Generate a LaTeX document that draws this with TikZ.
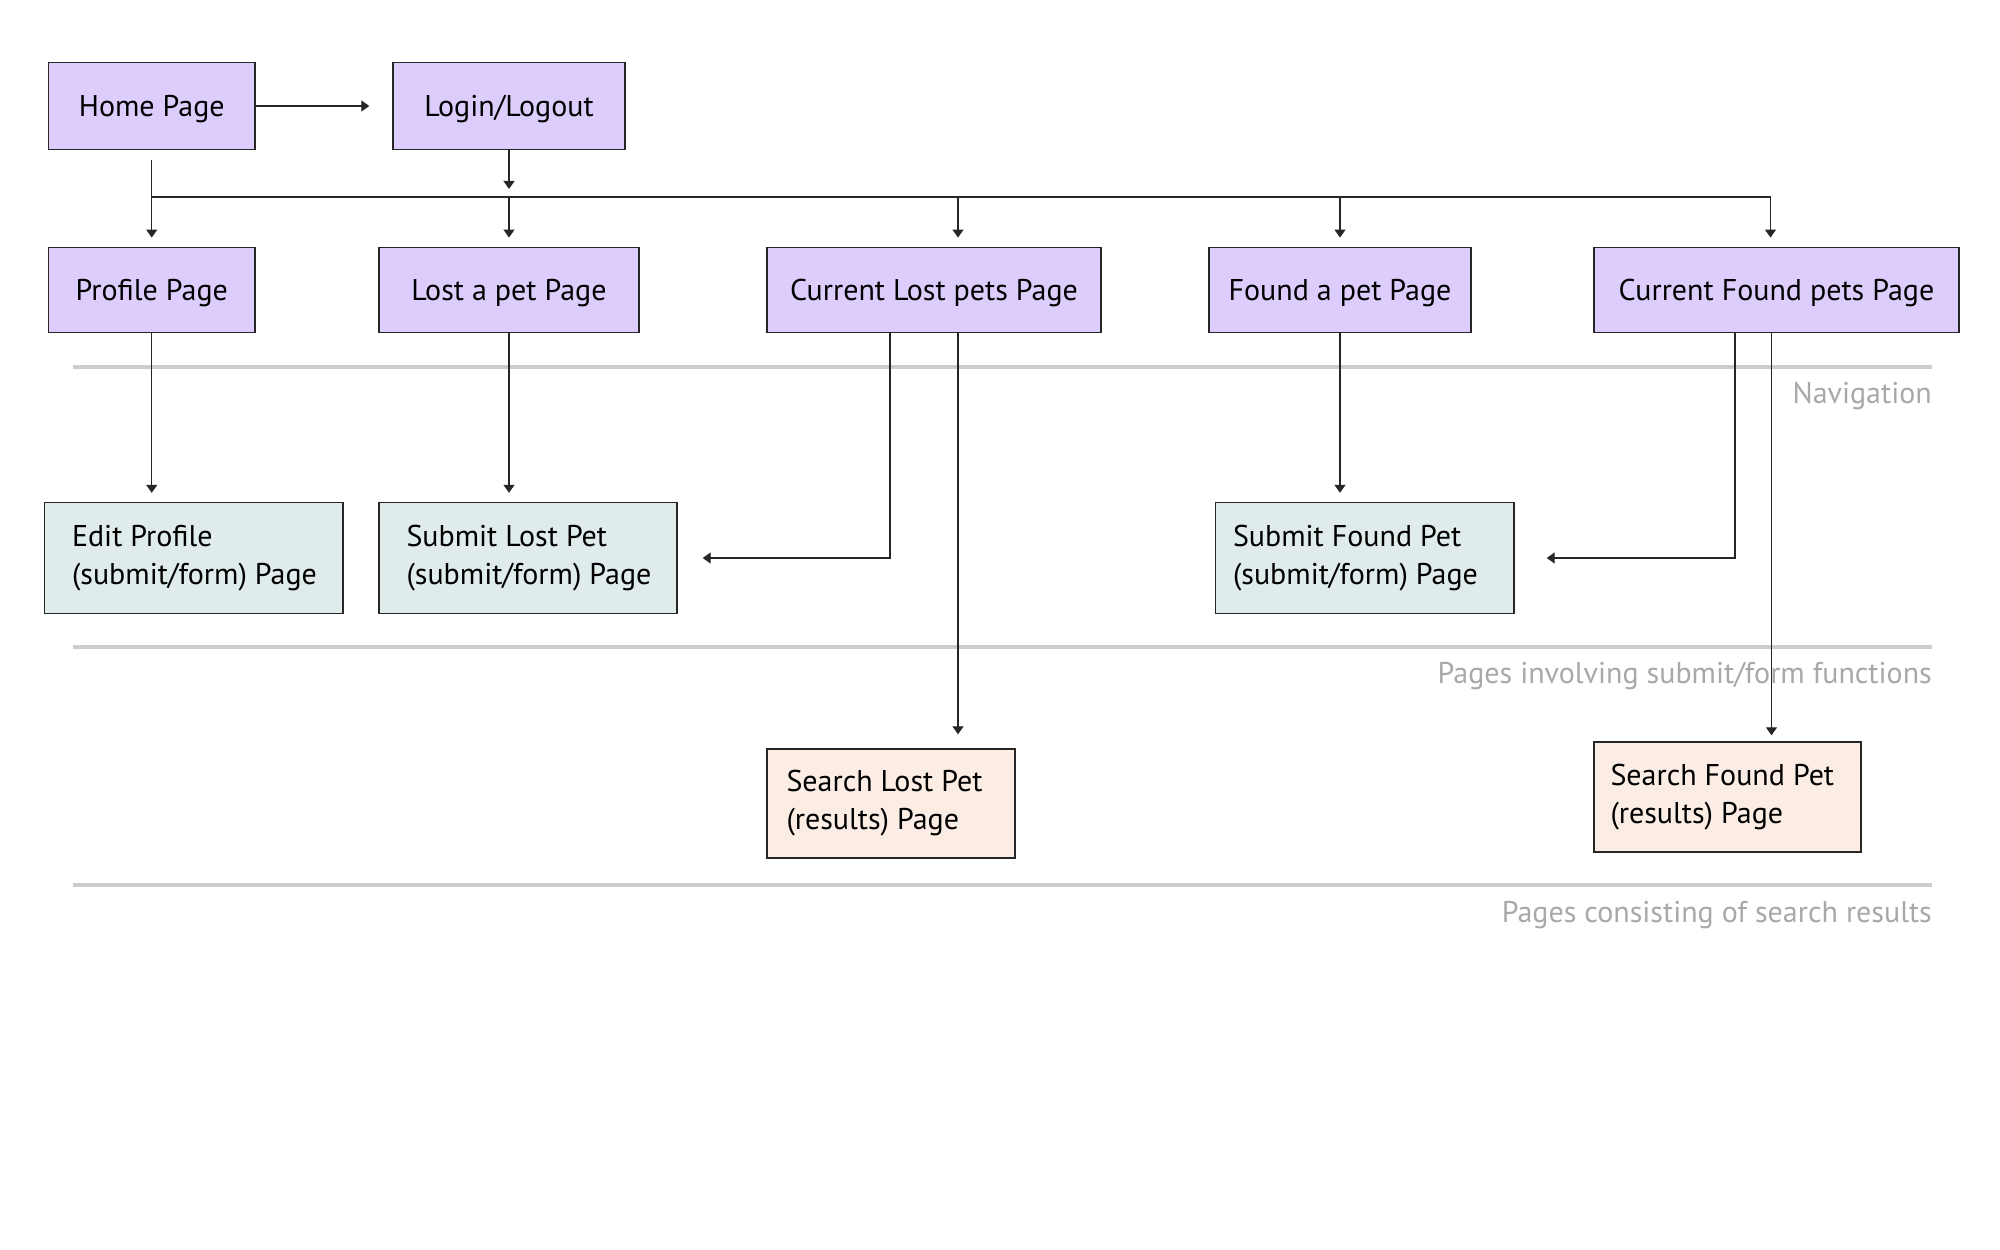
\documentclass[tikz,border=0pt]{standalone}
\usepackage{fontspec}
\setmainfont{PT Sans}
\usetikzlibrary{arrows.meta,calc}
\definecolor{navfill}{RGB}{221,205,252}
\definecolor{formfill}{RGB}{223,236,235}
\definecolor{resfill}{RGB}{251,237,228}
\definecolor{sepline}{RGB}{204,204,204}
\definecolor{seplabel}{RGB}{168,168,168}
\begin{document}
\begin{tikzpicture}[x=1pt,y=-1pt,
  font=\fontsize{30}{38}\selectfont,
  pagebox/.style={draw=black!85,line width=1.4pt,inner sep=0pt},
  navbox/.style={pagebox,fill=navfill,text depth=0pt},
  formbox/.style={pagebox,fill=formfill},
  resbox/.style={pagebox,fill=resfill},
  boxtext/.style={anchor=west,align=left,inner sep=0pt},
  conn/.style={draw=black!85,line width=1.3pt},
  arr/.style={conn,-{Triangle[width=11pt,length=8pt]}},
  sep/.style={draw=sepline,line width=4pt},
  seplab/.style={text=seplabel,anchor=east,inner sep=0pt}]
\useasboundingbox (0,0) rectangle (2000,1250);
% separators
\draw[sep] (73,367) coordinate (s1a) -- (1932,367) coordinate (s1b);
\draw[sep] (73,647) coordinate (s2a) -- (1932,647) coordinate (s2b);
\draw[sep] (73,885) coordinate (s3a) -- (1932,885) coordinate (s3b);
\node[seplab] (lab1) at (1932,396) {Navigation};
\node[seplab] (lab2) at (1932,676) {Pages involving submit/form functions};
\node[seplab] (lab3) at (1932,915) {Pages consisting of search results};
% row 1
\node[navbox,minimum width=206.5pt,minimum height=86.5pt] (home) at (151.75,106) {Home Page};
\node[navbox,minimum width=232pt,minimum height=86.5pt] (login) at (509,106) {Login/Logout};
% row 2
\node[navbox,minimum width=206.5pt,minimum height=85.5pt] (prof) at (151.75,290) {Profile Page};
\node[navbox,minimum width=260pt,minimum height=85.5pt] (lost) at (509,290) {Lost a pet Page};
\node[navbox,minimum width=334pt,minimum height=85.5pt] (curlost) at (934,290) {Current Lost pets Page};
\node[navbox,minimum width=262pt,minimum height=85.5pt] (found) at (1340,290) {Found a pet Page};
\node[navbox,minimum width=365pt,minimum height=85.5pt] (curfound) at (1776.5,290) {Current Found pets Page};
% row 3
\node[formbox,minimum width=298.5pt,minimum height=111pt] (edit) at (193.75,558) {};
\node[boxtext] (editt) at ([xshift=28pt]edit.west) {Edit Profile\\(submit/form) Page};
\node[formbox,minimum width=298pt,minimum height=111pt] (sublost) at (528,558) {};
\node[boxtext] (sublostt) at ([xshift=28pt]sublost.west) {Submit Lost Pet\\(submit/form) Page};
\node[formbox,minimum width=298.5pt,minimum height=111pt] (subfound) at (1364.75,558) {};
\node[boxtext] (subfoundt) at ([xshift=18pt]subfound.west) {Submit Found Pet\\(submit/form) Page};
% row 4
\node[resbox,minimum width=248pt,minimum height=109pt] (srchlost) at (891,803.5) {};
\node[boxtext] (srchlostt) at ([xshift=20pt]srchlost.west) {Search Lost Pet\\(results) Page};
\node[resbox,minimum width=267pt,minimum height=110pt] (srchfound) at (1727.5,797) {};
\node[boxtext] (srchfoundt) at ([xshift=17pt]srchfound.west) {Search Found Pet\\(results) Page};
% helper coordinates
\coordinate (busL) at ($(home.south)+(0,47)$);
\coordinate (cfTop) at ($(curfound.north)+(-6,0)$);
\coordinate (busR) at (busL -| cfTop);
\coordinate (clTop) at ($(curlost.north)+(24,0)$);
\coordinate (clA) at ($(curlost.south)+(-44,0)$);
\coordinate (clB) at ($(curlost.south)+(24,0)$);
\coordinate (clBend) at (clB |- srchlost.north);
\coordinate (cfA) at ($(curfound.south)+(-41.5,0)$);
\coordinate (cfB) at ($(curfound.south)+(-5,0)$);
\coordinate (cfBend) at (cfB |- srchfound.north);
% connectors
\draw[arr,shorten >=23pt] (home.east) -- (login.west);
\draw[conn] (busL) -- (busR);
\draw[arr,shorten <=10pt,shorten >=9pt] (home.south) -- (prof.north);
\draw[arr,shorten >=8pt] (login.south) -- (login.south |- busL);
\draw[arr,shorten >=9pt] (busL -| lost.north) -- (lost.north);
\draw[arr,shorten >=9pt] (busL -| clTop) -- (clTop);
\draw[arr,shorten >=9pt] (busL -| found.north) -- (found.north);
\draw[arr,shorten >=9pt] (busR) -- (cfTop);
\draw[arr,shorten >=9pt] (prof.south) -- (prof.south |- edit.north);
\draw[arr,shorten >=9pt] (lost.south) -- (lost.south |- sublost.north);
\draw[arr,shorten >=9pt] (found.south) -- (found.south |- subfound.north);
\draw[arr,shorten >=25pt] (clA) |- (sublost.east);
\draw[arr,shorten >=14pt] (clB) -- (clBend);
\draw[arr,shorten >=32pt] (cfA) |- (subfound.east);
\draw[arr,shorten >=6pt] (cfB) -- (cfBend);
\end{tikzpicture}
\end{document}
